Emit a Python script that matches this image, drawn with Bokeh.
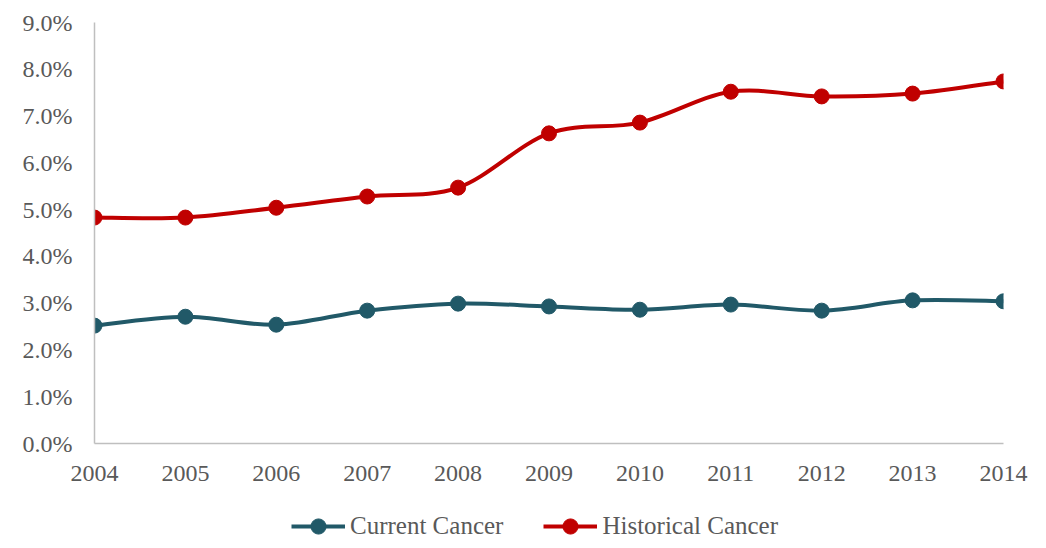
from bokeh.plotting import figure
from bokeh.layouts import column
from bokeh.models import NumeralTickFormatter, Legend, LegendItem, FixedTicker, ColumnDataSource
from bokeh.embed import file_html
from bokeh.resources import INLINE
import numpy as np

years = [2004, 2005, 2006, 2007, 2008, 2009, 2010, 2011, 2012, 2013, 2014]
current_cancer = [2.52, 2.71, 2.54, 2.84, 2.99, 2.93, 2.86, 2.97, 2.84, 3.06, 3.04]
historical_cancer = [4.83, 4.83, 5.04, 5.28, 5.47, 6.63, 6.86, 7.52, 7.42, 7.48, 7.74]
y_ticks = [0.0, 0.01, 0.02, 0.03, 0.04, 0.05, 0.06, 0.07, 0.08, 0.09]
series_names = ["Current Cancer", "Historical Cancer"]

FONT = "Liberation Serif"
TEXT = "#595959"
AXIS = "#BFBFBF"
C_CUR = "#215968"
C_HIS = "#C00000"

p = figure(width=1040, height=490, output_backend="svg", toolbar_location=None,
           x_range=(2004, 2014), y_range=(0, 0.09),
           min_border_left=94, min_border_right=37, min_border_top=22, min_border_bottom=47)
p.outline_line_color = None
p.xgrid.visible = False
p.ygrid.visible = False

for ax in (p.xaxis[0], p.yaxis[0]):
    ax.axis_line_color = AXIS
    ax.axis_line_width = 1.5
    ax.major_tick_line_color = None
    ax.minor_tick_line_color = None
    ax.major_label_text_font = FONT
    ax.major_label_text_font_size = "24px"
    ax.major_label_text_color = TEXT

p.yaxis.ticker = FixedTicker(ticks=y_ticks)
p.yaxis.formatter = NumeralTickFormatter(format="0.0%")
p.yaxis.major_label_standoff = 16
p.xaxis.ticker = FixedTicker(ticks=years)
p.xaxis.major_label_standoff = 16


def smooth_segments(xs, ys):
    x = np.array(xs, dtype=float)
    y = np.array(ys, dtype=float)
    n = len(x)
    xp = np.concatenate([[x[0]], x, [x[-1]]])
    yp = np.concatenate([[y[0]], y, [y[-1]]])
    d = dict(x0=[], y0=[], x1=[], y1=[], cx0=[], cy0=[], cx1=[], cy1=[])
    for i in range(n - 1):
        p0x, p0y = xp[i], yp[i]
        p1x, p1y = xp[i + 1], yp[i + 1]
        p2x, p2y = xp[i + 2], yp[i + 2]
        p3x, p3y = xp[i + 3], yp[i + 3]
        d["x0"].append(p1x); d["y0"].append(p1y)
        d["x1"].append(p2x); d["y1"].append(p2y)
        d["cx0"].append(p1x + (p2x - p0x) / 6); d["cy0"].append(p1y + (p2y - p0y) / 6)
        d["cx1"].append(p2x - (p3x - p1x) / 6); d["cy1"].append(p2y - (p3y - p1y) / 6)
    return ColumnDataSource(d)


colors = [C_CUR, C_HIS]
all_series = [current_cancer, historical_cancer]
for vals, col in zip(all_series, colors):
    frac = [v / 100 for v in vals]
    p.bezier(x0="x0", y0="y0", x1="x1", y1="y1", cx0="cx0", cy0="cy0", cx1="cx1", cy1="cy1",
             source=smooth_segments(years, frac), line_color=col, line_width=4)
    p.scatter(years, frac, size=15, fill_color=col, line_color=col)

# legend strip below the chart (its series are drawn outside its view; only the legend shows)
lg = figure(width=1040, height=58, output_backend="svg", toolbar_location=None,
            x_range=(0, 1), y_range=(0, 1), x_axis_location=None, y_axis_location=None,
            min_border=0)
lg.outline_line_color = None
lg.xgrid.visible = False
lg.ygrid.visible = False
items = []
for name, vals, col in zip(series_names, all_series, colors):
    r1 = lg.line(years, vals, line_color=col, line_width=4)
    r2 = lg.scatter(years, vals, size=15, fill_color=col, line_color=col)
    items.append(LegendItem(label=name, renderers=[r1, r2]))

legend = Legend(items=items, orientation="horizontal", location=(197, 3),
                label_text_font=FONT, label_text_font_size="25px", label_text_color=TEXT,
                glyph_width=54, glyph_height=38, label_standoff=5, spacing=40,
                border_line_color=None, background_fill_alpha=0, padding=4, margin=0)
lg.add_layout(legend, "center")

layout = column(p, lg, spacing=0)
open("out.html", "w").write(file_html(layout, INLINE))
